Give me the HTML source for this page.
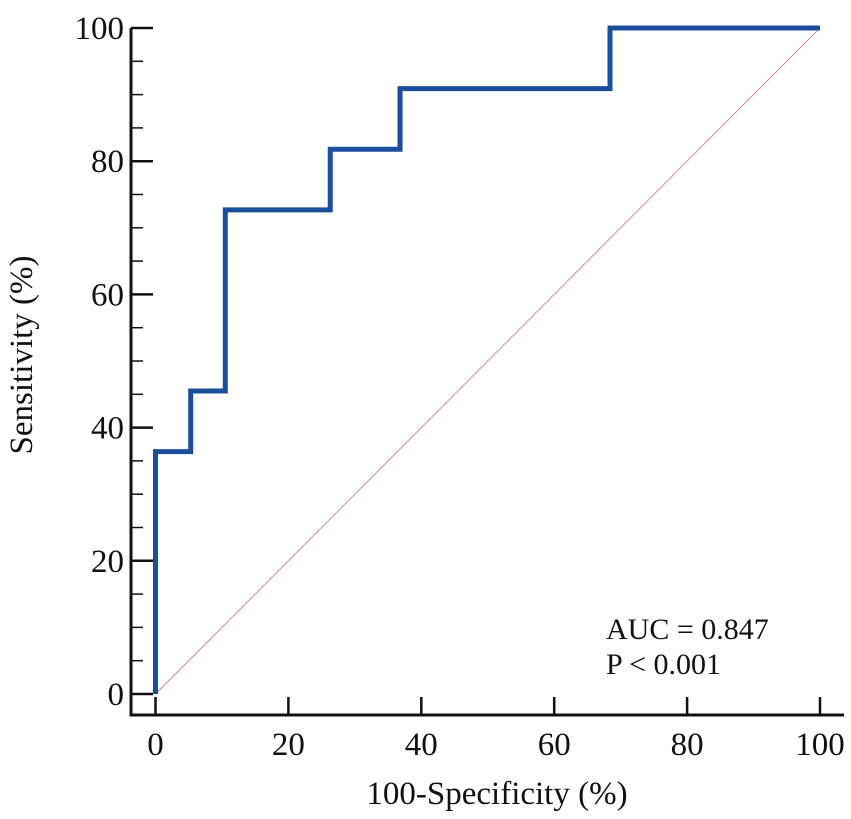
<!DOCTYPE html>
<html><head><meta charset="utf-8"><style>
body{margin:0;background:#fff}
svg text{font-family:"Liberation Serif",serif;fill:#111}
</style></head><body>
<svg width="851" height="814">
<g id="axes"></g>
<line id="diag" stroke="#d98a8a" stroke-width="1"/>
<path id="roc" fill="none" stroke="#1b4f9c" stroke-width="5" stroke-linejoin="miter"/>
<text x="606" y="639" font-size="30">AUC = 0.847</text>
<text x="606" y="674" font-size="30">P &lt; 0.001</text>
<text x="497" y="804" font-size="33" text-anchor="middle">100-Specificity (%)</text>
<text transform="translate(32,355) rotate(-90)" font-size="33" text-anchor="middle">Sensitivity (%)</text>
</svg>
<script>
const fprValues=[0,0,5.3,5.3,10.5,10.5,26.3,26.3,36.8,36.8,68.4,68.4,100];
const tprValues=[0,36.4,36.4,45.5,45.5,72.7,72.7,81.8,81.8,90.9,90.9,100,100];
const xTicks=[0,20,40,60,80,100];
const yTicks=[0,20,40,60,80,100];
const sx=v=>155.5+v*6.645, sy=v=>694-v*6.66;
const NS="http://www.w3.org/2000/svg";
const ax=document.getElementById('axes');
function ln(x1,y1,x2,y2,w,name){const l=document.createElementNS(NS,'line');
l.setAttribute('x1',x1);l.setAttribute('y1',y1);l.setAttribute('x2',x2);l.setAttribute('y2',y2);
l.setAttribute('stroke','#111');l.setAttribute('stroke-width',w);


ax.appendChild(l);}
function tx(x,y,s,anchor,name){const t=document.createElementNS(NS,'text');
t.setAttribute('x',x);t.setAttribute('y',y);t.setAttribute('font-size','33');t.setAttribute('text-anchor',anchor);t.textContent=s;


ax.appendChild(t);}
ln(131,28,131,716,3,'y-axis-line');
ln(129.5,715,844,715,3,'x-axis-line');
yTicks.forEach(v=>{ln(131,sy(v),153,sy(v),2.5,'y-tick');tx(124,sy(v)+11,String(v),'end','y-tick-label');});
for(let v=5;v<100;v+=5){if(v%20)ln(131,sy(v),143,sy(v),1.5,'y-minor-tick');}
xTicks.forEach(v=>{ln(sx(v),715,sx(v),697,2.5,'x-tick');tx(sx(v),755,String(v),'middle','x-tick-label');});
const d=document.getElementById('diag');
d.setAttribute('x1',sx(0));d.setAttribute('y1',sy(0));d.setAttribute('x2',sx(100));d.setAttribute('y2',sy(100));
document.getElementById('roc').setAttribute('d',fprValues.map((v,i)=>(i?'L':'M')+sx(v)+' '+sy(tprValues[i])).join(' '));
</script>
</body></html>
